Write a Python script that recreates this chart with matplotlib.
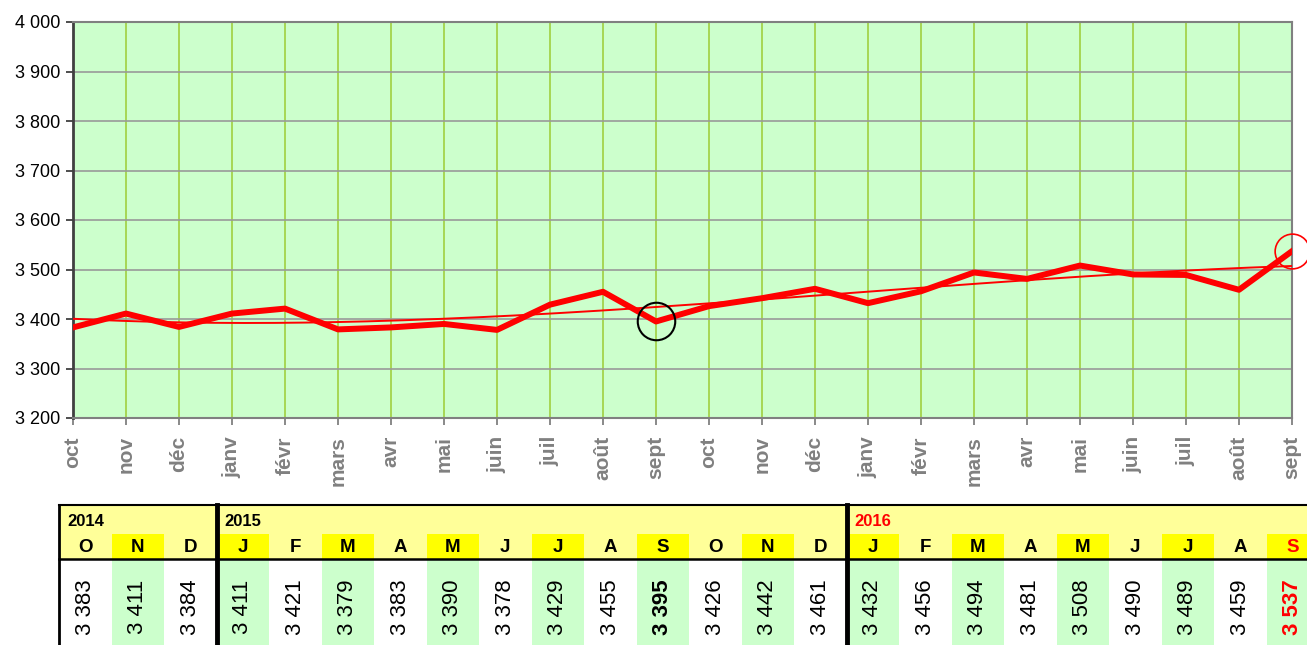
import numpy as np
import matplotlib.pyplot as plt
from matplotlib.patches import Rectangle
from matplotlib.ticker import FuncFormatter

plt.rcParams['font.family'] = ['Liberation Sans', 'DejaVu Sans']

# Data
months = ["oct", "nov", "déc", "janv", "févr", "mars", "avr", "mai", "juin", "juil", "août", "sept",
          "oct", "nov", "déc", "janv", "févr", "mars", "avr", "mai", "juin", "juil", "août", "sept"]
letters = ["O", "N", "D", "J", "F", "M", "A", "M", "J", "J", "A", "S",
           "O", "N", "D", "J", "F", "M", "A", "M", "J", "J", "A", "S"]
values = [3383, 3411, 3384, 3411, 3421, 3379, 3383, 3390, 3378, 3429, 3455, 3395,
          3426, 3442, 3461, 3432, 3456, 3494, 3481, 3508, 3490, 3489, 3459, 3537]
years = ["2014", "2015", "2016"]
year_start = [0, 3, 15]

W, H = 1307, 645
fig = plt.figure(figsize=(W / 100, H / 100), dpi=100)

# --- chart ---
ax = fig.add_axes([73 / W, 1 - 418 / H, (1292 - 73) / W, (418 - 22) / H])
ax.set_facecolor("#CCFFCC")
x = np.arange(len(values))

for xi in x:
    ax.axvline(xi, color="#A0D040", lw=1.2, zorder=1)
for yv in range(3300, 4000, 100):
    ax.axhline(yv, color="#999999", lw=1.2, zorder=1)

# polynomial trend
coef = np.polyfit(x, values, 3)
xx = np.linspace(0, len(values) - 1, 200)
ax.plot(xx, np.polyval(coef, xx), color="red", lw=1.4, zorder=3)

ax.plot(x, values, color="red", lw=4.3, zorder=4)

# circles on the two september points
ax.plot(x[11], values[11], marker="o", ms=27, mfc="none", mec="black", mew=1.5, zorder=5)
ax.plot(x[23], values[23], marker="o", ms=25, mfc="none", mec="red", mew=1.2, zorder=5, clip_on=False)

ax.set_xlim(0, len(values) - 1)
ax.set_ylim(3200, 4000)
ax.set_yticks(range(3200, 4001, 100))
ax.yaxis.set_major_formatter(FuncFormatter(lambda v, p: f"{int(v):,}".replace(",", " ")))
ax.set_xticks(x)
ax.set_xticklabels(months, rotation=90, color="#808080", fontsize=15, fontweight="bold")
ax.tick_params(axis="y", labelsize=13, length=5, width=1.3, color="#404040", pad=4)
ax.tick_params(axis="x", length=5, width=1.3, color="#808080", pad=8)
for s in ["top", "right", "bottom"]:
    ax.spines[s].set_color("#808080")
    ax.spines[s].set_linewidth(1.5)
ax.spines["left"].set_color("#404040")
ax.spines["left"].set_linewidth(2)

# --- table below ---
tb = fig.add_axes([0, 0, 1, 1])
tb.set_xlim(0, W)
tb.set_ylim(H, 0)
tb.axis("off")

left, cw = 59, 52.5
top, mid, bot = 505, 559, H
tb.add_patch(Rectangle((left, top), W - left + 20, mid - top, color="#FFFF99", lw=0, zorder=1))
for i in range(len(values)):
    cx = left + i * cw
    if i % 2 == 1:
        tb.add_patch(Rectangle((cx, 534), cw, mid - 534, color="#FFFF00", lw=0, zorder=2))
        tb.add_patch(Rectangle((cx, mid), cw, bot - mid, color="#CCFFCC", lw=0, zorder=2))
    last = i == len(values) - 1
    col = "red" if last else "black"
    tb.text(cx + cw / 2, 548, letters[i], ha="center", va="center", fontsize=13.5,
            fontweight="bold", color=col, zorder=4)
    txt = f"{values[i]:,}".replace(",", " ")
    bold = i in (11, 23)
    tb.text(cx + cw / 2, 607, txt, ha="center", va="center", rotation=90, fontsize=16,
            fontweight="bold" if bold else "normal", color=col, zorder=4)

for yr, s in zip(years, year_start):
    tb.text(left + s * cw + 8, 521, yr, ha="left", va="center", fontsize=12, fontweight="bold",
            color="red" if yr == "2016" else "black", zorder=4)

tb.plot([left, W], [top, top], color="black", lw=1.5, zorder=5)
tb.plot([left, W], [mid, mid], color="black", lw=1.8, zorder=5)
tb.plot([left, left], [top, bot], color="black", lw=2, zorder=5)
for s in year_start[1:]:
    xs = left + s * cw
    tb.plot([xs, xs], [top, bot], color="black", lw=3.5, zorder=5)

fig.savefig("out.png", dpi=100)
